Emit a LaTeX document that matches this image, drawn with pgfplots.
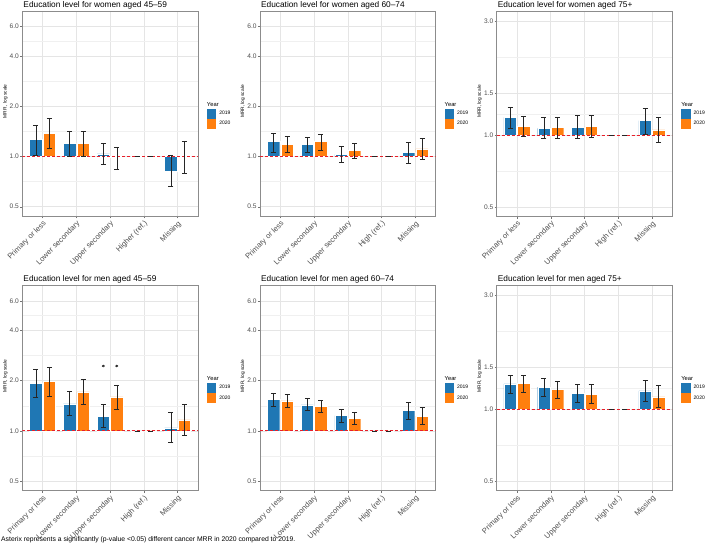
\documentclass[border=0pt]{standalone}
\usepackage{fontspec}
\setmainfont{Liberation Sans}
\usepackage{pgfplots}
\pgfplotsset{compat=1.18}
\usepackage{pgfplotstable}

\definecolor{c19}{HTML}{1F77B4}
\definecolor{c20}{HTML}{FF7F0E}
\definecolor{refred}{HTML}{E8202A}
\definecolor{tickgray}{HTML}{4D4D4D}

\newcommand{\fsT}{\fontsize{8.3bp}{9bp}\selectfont}
\newcommand{\fsX}{\fontsize{7.6bp}{8bp}\selectfont}
\newcommand{\fsY}{\fontsize{6.6bp}{7bp}\selectfont}
\newcommand{\fsL}{\fontsize{4.8bp}{5bp}\selectfont}
\newcommand{\fsK}{\fontsize{5bp}{5bp}\selectfont}
\newcommand{\fsYear}{\fontsize{5.8bp}{6bp}\selectfont}
\newcommand{\fsN}{\fontsize{6.8bp}{7bp}\selectfont}

% women 45-59
\pgfplotstableread{
x v19 lo19 hi19 v20 lo20 hi20
0 1.265 1.018 1.547 1.38 1.117 1.69
1 1.197 1.008 1.424 1.197 1.008 1.424
2 1.036 0.899 1.20 0.99 0.839 1.14
3 1 1 1 1 1 1
4 0.82 0.663 1.018 0.99 0.797 1.23
}\tA
% women 60-74
\pgfplotstableread{
x v19 lo19 hi19 v20 lo20 hi20
0 1.23 1.066 1.385 1.18 1.057 1.318
1 1.18 1.061 1.311 1.23 1.091 1.36
2 1.028 0.928 1.148 1.091 0.977 1.206
3 1 1 1 1 1 1
4 1.057 0.908 1.224 1.11 0.963 1.288
}\tB
% women 75+
\pgfplotstableread{
x v19 lo19 hi19 v20 lo20 hi20
0 1.187 1.072 1.312 1.088 0.988 1.198
1 1.068 0.97 1.187 1.078 0.97 1.187
2 1.078 0.97 1.21 1.088 0.979 1.21
3 1 1 1 1 1 1
4 1.15 1.012 1.30 1.051 0.933 1.187
}\tC
% men 45-59
\pgfplotstableread{
x v19 lo19 hi19 v20 lo20 hi20
0 1.924 1.595 2.334 1.97 1.609 2.40
1 1.449 1.245 1.716 1.709 1.449 2.034
2 1.221 1.05 1.435 1.595 1.352 1.864
3 1 1 1 1 1 1
4 1.041 0.85 1.298 1.162 0.94 1.441
}\tD
% men 60-74
\pgfplotstableread{
x v19 lo19 hi19 v20 lo20 hi20
0 1.545 1.411 1.688 1.512 1.384 1.656
1 1.431 1.323 1.561 1.398 1.287 1.533
2 1.235 1.132 1.347 1.185 1.095 1.287
3 1 1 1 1 1 1
4 1.323 1.18 1.49 1.223 1.091 1.392
}\tE
% men 75+
\pgfplotstableread{
x v19 lo19 hi19 v20 lo20 hi20
0 1.28 1.17 1.395 1.288 1.185 1.395
1 1.24 1.133 1.352 1.212 1.112 1.309
2 1.17 1.07 1.28 1.159 1.066 1.272
3 1 1 1 1 1 1
4 1.196 1.08 1.33 1.129 1.022 1.264
}\tF

\pgfplotsset{
 every axis title/.style={at={(0,1)}, anchor=base west, yshift=4.2bp, xshift=1bp, font=\fsT, inner sep=0pt},
 panel/.style={
  width=175.5bp, height=205bp, scale only axis, anchor=north west,
  xmin=-0.6, xmax=4.6, xtick={0,1,2,3,4},
  clip mode=individual,
  axis line style={black!45, line width=0.5bp},
  tick style={black!55, line width=0.4bp}, tick align=outside,
  major tick length=2.2bp, minor tick length=0pt,
  tick pos=left,
  xmajorgrids, ymajorgrids, yminorgrids,
  major grid style={black!10, line width=0.45bp},
  minor grid style={black!6, line width=0.3bp},
  yticklabel style={font=\fsY, text=tickgray, inner sep=1bp},
  xticklabel style={font=\fsX, text=tickgray, rotate=45, anchor=north east, inner sep=1bp},
  ylabel style={font=\fsL, at={(ticklabel cs:0.56)}, inner sep=1bp},
  ylabel={MRR, log scale},
  xticklabels={Primary or less,Lower secondary,Upper secondary,High (ref.),Missing},
  legend style={at={(1,0.525)}, anchor=north west, xshift=9bp, draw=none, fill=none,
    inner sep=0pt, outer sep=0pt, font=\fsK, row sep=1bp, nodes={inner sep=0pt},
    /tikz/every odd column/.append style={column sep=3.5bp}},
  legend cell align=left,
 },
 bigax/.style={ymin=0.438, ymax=7.40, ytick={0.5,1,2,4,6}, yticklabels={0.5,1.0,2.0,4.0,6.0},
   minor ytick={0.7071,1.4142,2.8284,4.899}},
 smallax/.style={ymin=0.458, ymax=3.29, ytick={0.5,1,1.5,3}, yticklabels={0.5,1.0,1.5,3.0},
   minor ytick={0.7071,1.2247,2.1213}},
 ebar/.style={draw=none, forget plot,
   error bars/.cd, y dir=both, y explicit, error mark=|,
   error bar style={draw=black!85, line width=0.5bp, solid},
   error mark options={draw=black!85, mark size=2.5bp, line width=0.5bp, solid}},
}

\newcommand{\panelplots}[1]{%
 \addplot[ybar, bar width=0.37, bar shift=-0.2, fill=c19, draw=white, line width=0.4bp,
   legend image code/.code={\fill[c19] (0bp,-4.5bp) rectangle (8.6bp,4.5bp);}] table[x=x,y=v19]{#1};
 \addlegendentry{2019}
 \addplot[ybar, bar width=0.37, bar shift=0.2, fill=c20, draw=white, line width=0.4bp,
   legend image code/.code={\fill[c20] (0bp,-4.5bp) rectangle (8.6bp,4.5bp);}] table[x=x,y=v20]{#1};
 \addlegendentry{2020}
 \addplot[color=refred, dash pattern=on 3bp off 2bp, line width=0.7bp, forget plot] coordinates {(-0.6,1) (4.6,1)};
 \addplot[ebar] table[x expr=\thisrow{x}-0.2, y=v19, y error plus expr=\thisrow{hi19}-\thisrow{v19}, y error minus expr=\thisrow{v19}-\thisrow{lo19}]{#1};
 \addplot[ebar] table[x expr=\thisrow{x}+0.2, y=v20, y error plus expr=\thisrow{hi20}-\thisrow{v20}, y error minus expr=\thisrow{v20}-\thisrow{lo20}]{#1};
 \node[anchor=base west, xshift=9bp, yshift=2.5bp, font=\fsYear, inner sep=0pt] at (rel axis cs:1,0.525) {Year};
}

\begin{document}
\begin{tikzpicture}
\useasboundingbox (0,0) rectangle (709bp,-546bp);

\begin{axis}[ymode=log, panel, bigax, at={(22.3bp,-11.3bp)},
  title={Education level for women aged 45--59}, ylabel={MRR , log scale},
  xticklabels={Primary or less,Lower secondary,Upper secondary,Higher (ref.),Missing}]
\panelplots{\tA}
\end{axis}

\begin{axis}[ymode=log, panel, bigax, at={(260bp,-11.3bp)},
  title={Education level for women aged 60--74}]
\panelplots{\tB}
\end{axis}

\begin{axis}[ymode=log, panel, smallax, at={(496.7bp,-11.3bp)},
  title={Education level for women aged 75+}]
\panelplots{\tC}
\end{axis}

\begin{axis}[ymode=log, panel, bigax, at={(22.3bp,-285.7bp)},
  title={Education level for men aged 45--59}]
\panelplots{\tD}
\addplot[only marks, mark=asterisk, mark size=1.4bp, black, forget plot] coordinates {(1.8,2.446) (2.2,2.446)};
\end{axis}

\begin{axis}[ymode=log, panel, bigax, at={(260bp,-285.7bp)},
  title={Education level for men aged 60--74}]
\panelplots{\tE}
\end{axis}

\begin{axis}[ymode=log, panel, smallax, at={(496.7bp,-285.7bp)},
  title={Education level for men aged 75+}]
\panelplots{\tF}
\end{axis}

\node[anchor=base west, font=\fsN, inner sep=0pt] at (1bp,-541.5bp) {Asterix represents a significantly (p-value <0.05) different cancer MRR in 2020 compared to 2019.};
\end{tikzpicture}
\end{document}
